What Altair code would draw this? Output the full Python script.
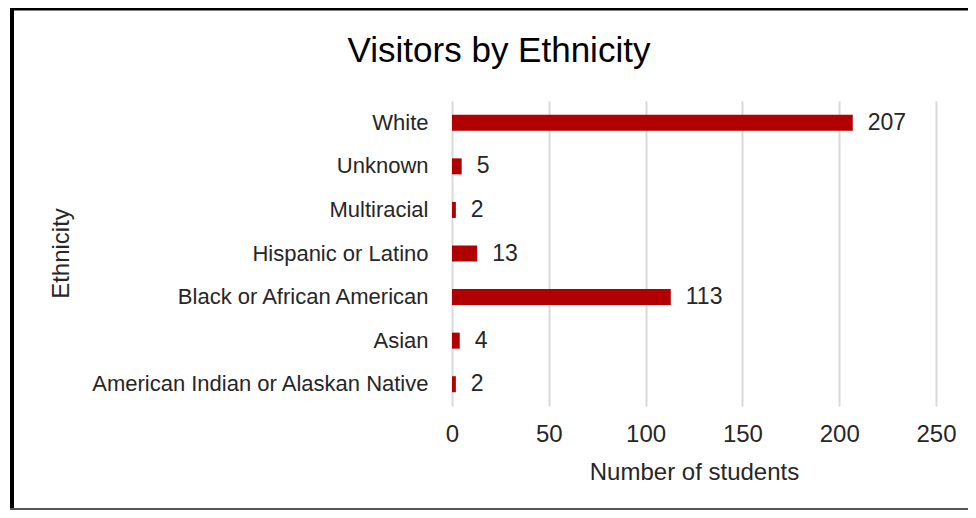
import altair as alt
import pandas as pd

categories = [
    "White",
    "Unknown",
    "Multiracial",
    "Hispanic or Latino",
    "Black or African American",
    "Asian",
    "American Indian or Alaskan Native",
]
students = [207, 5, 2, 13, 113, 4, 2]
x_ticks = [0, 50, 100, 150, 200, 250]
chart_title = "Visitors by Ethnicity"

df = pd.DataFrame({"Ethnicity": categories, "Students": students})
frame = pd.DataFrame({"k": [0]})

FONT = "Liberation Sans"
TXT = "#262626"

y_enc = alt.Y(
    "Ethnicity:N",
    sort=categories,
    scale=alt.Scale(paddingInner=0, paddingOuter=0),
    axis=alt.Axis(
        title="Ethnicity",
        titleFont=FONT,
        titleFontSize=24,
        titleFontWeight="normal",
        titleColor=TXT,
        titleAngle=-90,
        titleAlign="center",
        titleBaseline="alphabetic",
        titleX=-384,
        titleY=152,
        labelFont=FONT,
        labelFontSize=22,
        labelColor=TXT,
        labelPadding=24,
        labelLimit=0,
        ticks=False,
        tickSize=0,
        domain=False,
        grid=False,
    ),
)

x_enc = alt.X(
    "Students:Q",
    scale=alt.Scale(domain=[0, 250], nice=False),
    axis=alt.Axis(
        title="Number of students",
        values=x_ticks,
        titleFont=FONT,
        titleFontSize=24,
        titleFontWeight="normal",
        titleColor=TXT,
        titleBaseline="alphabetic",
        titleY=73,
        labelFont=FONT,
        labelFontSize=24,
        labelColor=TXT,
        labelPadding=16,
        labelFlush=False,
        ticks=False,
        tickSize=0,
        domain=False,
        grid=True,
        gridColor="#d9d9d9",
        gridWidth=2,
    ),
)

bars = alt.Chart(df).mark_bar(color="#b00000", size=16).encode(x=x_enc, y=y_enc)

labels = alt.Chart(df).mark_text(
    align="left", baseline="middle", dx=15, font=FONT, fontSize=23, color=TXT
).encode(x="Students:Q", y=alt.Y("Ethnicity:N", sort=categories), text="Students:Q")

title_text = alt.Chart(frame).mark_text(
    align="center", baseline="alphabetic", font=FONT, fontSize=35, color="#000000"
).encode(x=alt.value(47), y=alt.value(-39), text=alt.value(chart_title))

left_line = alt.Chart(frame).mark_rule(color="#000000", strokeWidth=4).encode(
    x=alt.value(-440), y=alt.value(-93), y2=alt.value(409)
)
top_line = alt.Chart(frame).mark_rule(color="#000000", strokeWidth=3).encode(
    x=alt.value(-442), x2=alt.value(516), y=alt.value(-92)
)
bottom_line = alt.Chart(frame).mark_rule(color="#555555", strokeWidth=2).encode(
    x=alt.value(-442), x2=alt.value(516), y=alt.value(408)
)

chart = (
    alt.layer(bars, labels, title_text, left_line, top_line, bottom_line)
    .properties(
        width=484,
        height=305,
        background="white",
        autosize=alt.AutoSizeParams(type="none"),
        padding={"left": 444, "top": 93, "right": 32, "bottom": 104},
    )
    .configure_view(strokeWidth=0, stroke="transparent")
)

chart.save("out.html", embed_options={"renderer": "svg", "actions": False})
